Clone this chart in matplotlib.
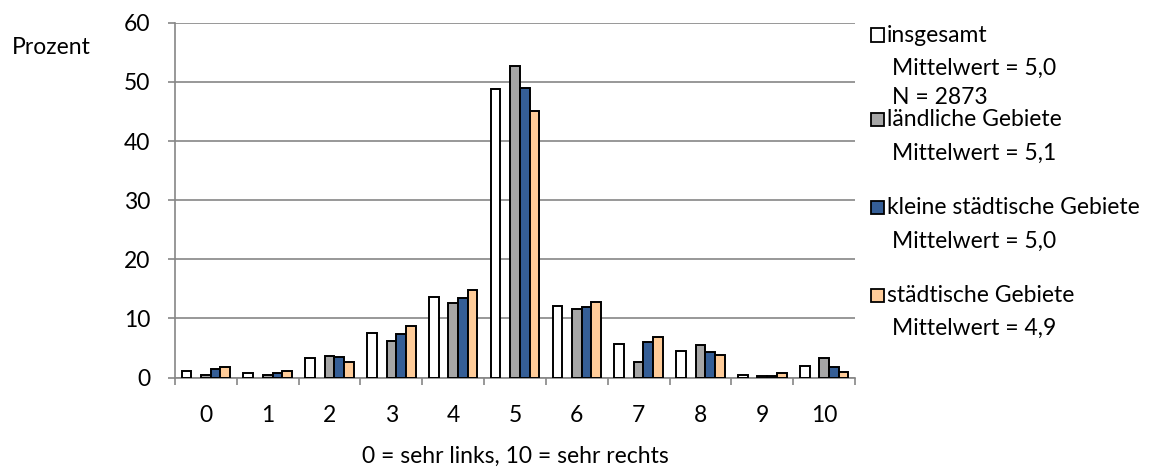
import numpy as np
import matplotlib
matplotlib.use("Agg")
from matplotlib import pyplot as plt
from matplotlib.patches import Rectangle

plt.rcParams['font.family'] = ['Lato', 'DejaVu Sans']

# Links-rechts-Selbsteinstufung, Anteile in Prozent
skala = list(range(11))
insgesamt = [1.2, 0.8, 3.3, 7.5, 13.6, 48.8, 12.1, 5.6, 4.5, 0.5, 2.0]
laendlich = [0.4, 0.5, 3.6, 6.2, 12.6, 52.7, 11.6, 2.7, 5.5, 0.3, 3.3]
klein_staedtisch = [1.4, 0.8, 3.4, 7.3, 13.4, 48.9, 12.0, 6.0, 4.3, 0.2, 1.8]
staedtisch = [1.8, 1.2, 2.7, 8.8, 14.8, 45.0, 12.7, 6.9, 3.9, 0.8, 1.0]

gruppen = ['insgesamt', 'ländliche Gebiete', 'kleine städtische Gebiete', 'städtische Gebiete']
mittelwerte = ['5,0', '5,1', '5,0', '4,9']
n_gesamt = 2873
farben = ['white', '#A6A6A6', '#355E96', '#FFCC99']

fs = 16.5
W, H = 1171, 468
fig = plt.figure(figsize=(W / 100, H / 100), dpi=100)
ax = fig.add_axes([175 / W, 1 - 377.6 / H, (855 - 175) / W, (377.6 - 22.7) / H])

x = np.array(skala)
w = 0.157
# fuenf Plaetze je Kategorie, der zweite bleibt leer
slots = [-2, 0, 1, 2]
for werte, farbe, s in zip([insgesamt, laendlich, klein_staedtisch, staedtisch], farben, slots):
    ax.bar(x + s * w, werte, width=w, color=farbe, edgecolor='black', linewidth=1.4, zorder=3)

grau = '#868686'
ax.set_xlim(-0.5, 10.5)
ax.set_ylim(0, 60)
ax.set_yticks(range(0, 61, 10))
ax.yaxis.grid(True, color=grau, linewidth=1.2)
ax.set_axisbelow(True)
for s in ['top', 'right']:
    ax.spines[s].set_visible(False)
for s in ['left', 'bottom']:
    ax.spines[s].set_color(grau)
    ax.spines[s].set_linewidth(1.2)

ax.set_xticks(x)
ax.set_xticklabels([str(v) for v in skala])
ax.set_xticks(np.arange(-0.5, 11, 1), minor=True)
ax.tick_params(axis='x', which='major', length=0, pad=20, labelsize=fs)
ax.tick_params(axis='x', which='minor', length=5, width=1.2, color=grau, direction='out')
ax.tick_params(axis='y', length=5, width=1.2, color=grau, pad=13, labelsize=fs)

ax.set_xlabel('0 = sehr links, 10 = sehr rechts', fontsize=fs, labelpad=14)
fig.text(12 / W, 1 - 48 / H, 'Prozent', fontsize=fs, va='center', ha='left')

# Legende mit Mittelwerten
zeilen = [35, 120, 208, 295]
for i, (name, mw, farbe) in enumerate(zip(gruppen, mittelwerte, farben)):
    y0 = zeilen[i]
    fig.patches.append(Rectangle((871 / W, 1 - (y0 + 6.5) / H), 13 / W, 13 / H,
                                 transform=fig.transFigure, facecolor=farbe,
                                 edgecolor='black', linewidth=1.3))
    fig.text(887 / W, 1 - y0 / H, name, fontsize=fs, va='center', ha='left')
    fig.text(892 / W, 1 - (y0 + 33) / H, 'Mittelwert = ' + mw, fontsize=fs, va='center', ha='left')
    if i == 0:
        fig.text(892 / W, 1 - (y0 + 63) / H, 'N = %d' % n_gesamt, fontsize=fs, va='center', ha='left')

fig.savefig('out.png', dpi=100)
